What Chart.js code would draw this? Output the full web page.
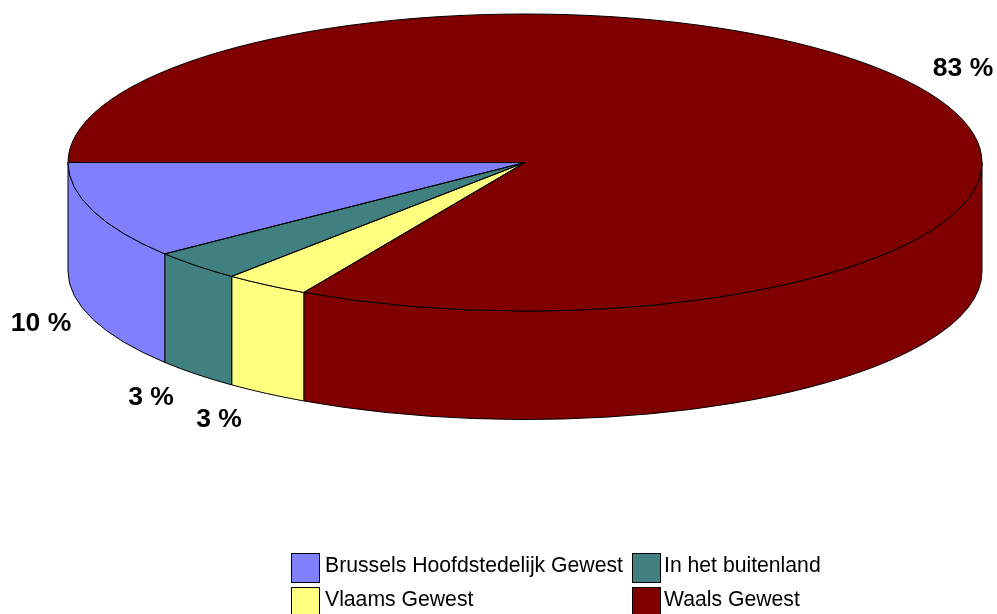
<!DOCTYPE html>
<html>
<head>
<meta charset="utf-8">
<title>Gewest</title>
<script src="https://cdn.jsdelivr.net/npm/chart.js@4"></script>
<style>
    html, body { margin: 0; padding: 0; background: #fff; overflow: hidden; }
    #wrap { width: 997px; height: 614px; }
</style>
</head>
<body>
<div id="wrap"><canvas id="pie3d" width="997" height="614"></canvas></div>
<script>
// order is clockwise starting from the left edge of the pie
const categories = ['Waals Gewest', 'Vlaams Gewest', 'In het buitenland', 'Brussels Hoofdstedelijk Gewest'];
const shares = [83.04, 3.05, 3.36, 10.55];
const shareLabels = ['83 %', '3 %', '3 %', '10 %'];
const sliceColors = ['#800000', '#FFFF80', '#408080', '#8080FF'];

// look of the tilted pie, in pixels
const CX = 525, CY = 162.5, RX = 457, RY = 148.5, DEPTH = 108.5;
const labelSpots = [[963, 68.5], [219, 419.5], [151, 397.5], [41, 323.5]];
const legendSpots = [[632, 587], [291, 587], [632, 553], [291, 553]];
const legendTextX = [664, 325, 664, 325];

const pie3d = {
    id: 'pie3d',
    beforeDatasetsDraw(chart) {
        const ctx = chart.ctx;
        const arcs = chart.getDatasetMeta(0).data;

        // side wall: only the front half of the rim is visible.
        // angles run from PI up to 3 PI, so the front shows up as 2 PI..3 PI
        arcs.forEach((arc, i) => {
            const a0 = Math.max(arc.startAngle, 2 * Math.PI);
            const a1 = Math.min(arc.endAngle, 3 * Math.PI);
            if (a1 <= a0) return;
            ctx.beginPath();
            ctx.ellipse(CX, CY, RX, RY, 0, a0, a1);
            ctx.ellipse(CX, CY + DEPTH, RX, RY, 0, a1, a0, true);
            ctx.closePath();
            ctx.fillStyle = sliceColors[i];
            ctx.fill();
            ctx.lineWidth = 1;
            ctx.strokeStyle = '#000';
            ctx.stroke();
        });

        // squash the library's round pie onto the top ellipse
        const first = arcs[0];
        ctx.save();
        ctx.translate(CX, CY);
        ctx.scale(RX / first.outerRadius, RY / first.outerRadius);
        ctx.translate(-first.x, -first.y);
    },
    afterDatasetsDraw(chart) {
        const ctx = chart.ctx;
        ctx.restore();

        // outlines go here so the line width is not squashed too
        const arcs = chart.getDatasetMeta(0).data;
        ctx.lineWidth = 1;
        ctx.strokeStyle = '#000';
        arcs.forEach(arc => {
            ctx.beginPath();
            ctx.moveTo(CX, CY);
            ctx.ellipse(CX, CY, RX, RY, 0, arc.startAngle, arc.endAngle);
            ctx.closePath();
            ctx.stroke();
        });

        // percentage labels
        ctx.fillStyle = '#000';
        ctx.font = 'bold 26.5px "Liberation Sans"';
        ctx.textAlign = 'center';
        ctx.textBaseline = 'middle';
        shareLabels.forEach((t, i) => ctx.fillText(t, labelSpots[i][0], labelSpots[i][1]));

        // legend, two columns
        ctx.font = '21.2px "Liberation Sans"';
        ctx.textAlign = 'left';
        ctx.textBaseline = 'alphabetic';
        categories.forEach((name, i) => {
            const [x, y] = legendSpots[i];
            ctx.fillStyle = sliceColors[i];
            ctx.fillRect(x, y, 28, 29);
            ctx.strokeRect(x + 0.5, y + 0.5, 28, 29);
            ctx.fillStyle = '#000';
            ctx.fillText(name, legendTextX[i], y + 19);
        });
    }
};

new Chart(document.getElementById('pie3d').getContext('2d'), {
    type: 'pie',
    data: {
        labels: categories,
        datasets: [{
            data: shares,
            backgroundColor: sliceColors,
            borderWidth: 0,
            clip: false
        }]
    },
    options: {
        responsive: false,
        animation: false,
        rotation: 270,
        plugins: {
            legend: { display: false },
            tooltip: { enabled: false }
        }
    },
    plugins: [pie3d]
});
</script>
</body>
</html>
